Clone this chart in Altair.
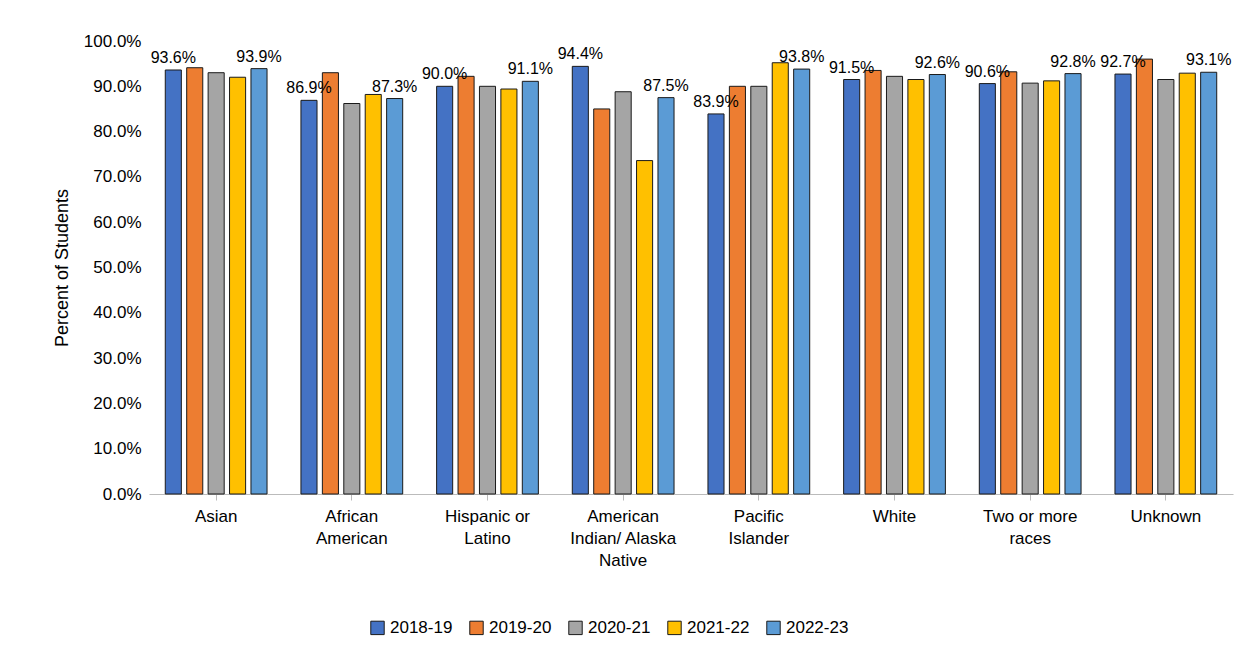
import altair as alt
import pandas as pd

groups = ["Asian", "African|American", "Hispanic or|Latino", "American|Indian/ Alaska|Native",
          "Pacific|Islander", "White", "Two or more|races", "Unknown"]
years = ["2018-19", "2019-20", "2020-21", "2021-22", "2022-23"]
colors = ["#4472C4", "#ED7D31", "#A5A5A5", "#FFC000", "#5B9BD5"]
values = {
    "2018-19": [93.6, 86.9, 90.0, 94.4, 83.9, 91.5, 90.6, 92.7],
    "2019-20": [94.1, 93.0, 92.2, 85.0, 90.0, 93.5, 93.2, 96.0],
    "2020-21": [93.0, 86.2, 90.0, 88.8, 90.0, 92.2, 90.7, 91.5],
    "2021-22": [92.0, 88.2, 89.4, 73.6, 95.2, 91.5, 91.2, 92.9],
    "2022-23": [93.9, 87.3, 91.1, 87.5, 93.8, 92.6, 92.8, 93.1],
}

rows = []
for y in years:
    for g, v in zip(groups, values[y]):
        rows.append({"group": g, "year": y, "value": v / 100})
df = pd.DataFrame(rows)

x = alt.X("group:N", sort=groups, title=None,
          scale=alt.Scale(paddingInner=0.25, paddingOuter=0.12),
          axis=alt.Axis(labelExpr="split(datum.label, '|')", labelAngle=0, labelFontSize=17,
                        labelColor="#000", labelPadding=8, tickSize=6, domainColor="#bbb",
                        tickColor="#bbb", labelLineHeight=22))
xo = alt.XOffset("year:N", sort=years, scale=alt.Scale(paddingInner=0.25))

bars = alt.Chart(df).mark_bar(stroke="#1a1a1a", strokeWidth=1).encode(
    x=x, xOffset=xo,
    y=alt.Y("value:Q", scale=alt.Scale(domain=[0, 1]), title="Percent of Students",
            axis=alt.Axis(format=".1%", tickCount=10, labelFontSize=17, labelColor="#000",
                          titleFontSize=18, titleFontWeight="normal", titleColor="#000",
                          grid=False, domain=False, ticks=False, labelPadding=8, titlePadding=12)),
    color=alt.Color("year:N", sort=years, scale=alt.Scale(domain=years, range=colors),
                    legend=alt.Legend(orient="none", legendX=220, legendY=578, direction="horizontal",
                                      title=None, labelFontSize=17,
                                      labelColor="#000", symbolType="square", symbolSize=180,
                                      symbolStrokeColor="#1a1a1a", symbolStrokeWidth=1,
                                      columnPadding=14)),
)

labels = alt.Chart(df).transform_filter(
    "datum.year == '2018-19' || datum.year == '2022-23'"
).mark_text(dy=-12, fontSize=16, color="#000").encode(
    x=x, xOffset=xo, y="value:Q", text=alt.Text("value:Q", format=".1%"),
)

chart = (bars + labels).properties(
    width=1084, height=453,
    padding={"left": 45, "top": 24, "right": 5, "bottom": 10},
).configure(font="Liberation Sans").configure_view(strokeWidth=0, stroke=None)
chart.save("out.html", embed_options={"renderer": "svg", "actions": False})
